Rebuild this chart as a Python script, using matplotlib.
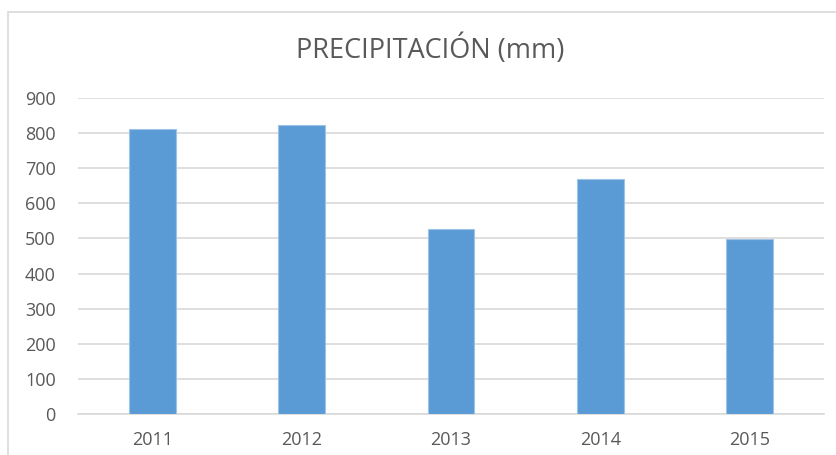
import matplotlib.pyplot as plt
from matplotlib.patches import Rectangle

years = ['2011', '2012', '2013', '2014', '2015']
precip = [812, 824, 526, 669, 497]
yticks = [0, 100, 200, 300, 400, 500, 600, 700, 800, 900]

plt.rcParams['font.family'] = ['Open Sans', 'DejaVu Sans']

W, H = 837, 455
fig = plt.figure(figsize=(W / 100, H / 100), dpi=100)

# marco del gráfico (recortado a la derecha y abajo)
fig.patches.append(Rectangle((8 / W, -0.1), 1.1, 1 - 12 / H + 0.1, transform=fig.transFigure,
                             fill=False, edgecolor='#d9d9d9', linewidth=1.2))

ax = fig.add_axes([78 / W, 1 - 414 / H, (824 - 78) / W, (414 - 98) / H])
ax.bar(years, precip, width=0.315, color='#5b9bd5', edgecolor='#9dc3e6', linewidth=0.8, zorder=3)

ax.set_ylim(0, 900)
ax.set_xlim(-0.5, 4.5)
ax.set_yticks(yticks)
ax.grid(axis='y', color='#d9d9d9', linewidth=1.2, zorder=0)
for s in ['top', 'right', 'left']:
    ax.spines[s].set_visible(False)
ax.spines['bottom'].set_color('#d9d9d9')
ax.spines['bottom'].set_linewidth(1.2)
ax.tick_params(length=0, labelsize=13, labelcolor='#595959')
ax.tick_params(axis='y', pad=16)
ax.tick_params(axis='x', pad=12)

fig.text(430 / W, 1 - 50 / H, 'PRECIPITACIÓN (mm)', ha='center', va='center',
         fontsize=19.5, color='#595959')

fig.savefig('out.png', dpi=100)
